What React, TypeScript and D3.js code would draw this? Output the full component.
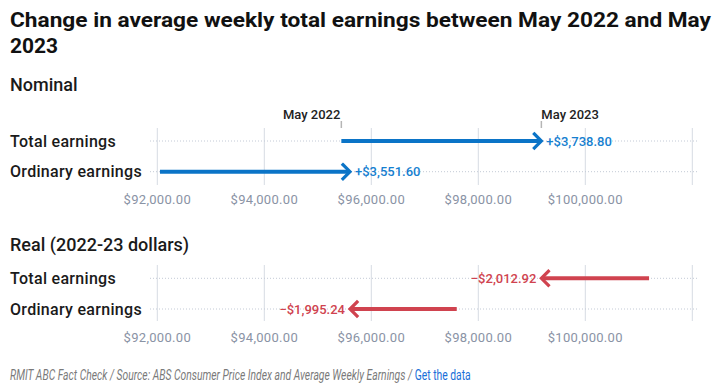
import React, { useEffect, useRef } from 'react';
import * as d3 from 'd3';

// rows and values (annualised weekly earnings, $)
const categories = ['Total earnings', 'Ordinary earnings'];
const nominalStart = [95440, 92050];
const nominalChange = [3738.8, 3551.6];
const realStart = [101191.72, 97596.84];
const realChange = [-2012.92, -1995.24];
const tickValues = [92000, 94000, 96000, 98000, 100000, 102000];
const tickLabels = ['$92,000.00', '$94,000.00', '$96,000.00', '$98,000.00', '$100,000.00', ''];
const markerLabels = ['May 2022', 'May 2023'];

const W = 721;
const H = 390;
const FONT = 'Roboto, "Noto Sans", sans-serif';
const BLUE = '#0b74c7';
const RED = '#d0434f';

const fmt = (v: number) => (v >= 0 ? '+' : '\u2212') + d3.format('$,.2f')(Math.abs(v));

const App = () => {
  const svgRef = useRef<SVGSVGElement>(null);

  useEffect(() => {
    const svg = d3.select(svgRef.current);
    svg.selectAll('*').remove();

    const x = d3.scaleLinear().domain([92000, 102000]).range([157.3, 692.3]);

    // title (two lines, stretched to the width of the original heading font)
    const titleStyle = (t: any) => t
      .style('font-family', FONT).style('font-size', '21px').style('font-weight', 700)
      .style('fill', '#111');
    titleStyle(svg.append('text').attr('x', 10).attr('y', 27)
      .attr('textLength', 701).attr('lengthAdjust', 'spacingAndGlyphs')
      .text('Change in average weekly total earnings between May 2022 and May'));
    titleStyle(svg.append('text').attr('x', 10).attr('y', 53)
      .attr('textLength', 48).attr('lengthAdjust', 'spacingAndGlyphs')
      .text('2023'));

    const panels = [
      { name: 'Nominal', headY: 91, rows: [141, 171.7], grid: [128, 185], axisY: 203.5,
        start: nominalStart, change: nominalChange, color: BLUE, markers: true },
      { name: 'Real (2022-23 dollars)', headY: 251, rows: [278.3, 309], grid: [265, 321], axisY: 341.5,
        start: realStart, change: realChange, color: RED, markers: false },
    ];

    panels.forEach((p) => {
      const g = svg.append('g');
      g.append('text')
        .attr('x', 10).attr('y', p.headY)
        .style('font-family', FONT).style('font-size', '18px').style('font-weight', 500)
        .style('fill', '#1a1a1a').text(p.name);

      // gridlines
      g.selectAll('.grid').data(tickValues).enter().append('line')
        .attr('x1', d => x(d)).attr('x2', d => x(d))
        .attr('y1', p.grid[0]).attr('y2', p.grid[1])
        .attr('stroke', '#d6dbe3').attr('stroke-width', 1);

      // tick labels
      g.selectAll('.tick').data(tickValues).enter().append('text')
        .attr('x', d => x(d)).attr('y', p.axisY)
        .attr('text-anchor', 'middle')
        .style('font-family', FONT).style('font-size', '13px')
        .style('letter-spacing', '0.3px')
        .style('fill', '#8a93a5')
        .text((d, i) => tickLabels[i]);

      // row dotted guides + labels
      p.rows.forEach((ry, i) => {
        g.append('line')
          .attr('x1', 150).attr('x2', 698).attr('y1', ry).attr('y2', ry)
          .attr('stroke', '#c3cad6').attr('stroke-width', 1).attr('stroke-dasharray', '1,2');
        g.append('text')
          .attr('x', 10).attr('y', ry + 5.5)
          .style('font-family', FONT).style('font-size', '16px').style('font-weight', 500)
          .style('letter-spacing', '0.3px')
          .style('fill', '#1a1a1a').text(categories[i]);
      });

      // markers for May 2022 / May 2023 (nominal total row)
      if (p.markers) {
        const mv = [p.start[0], p.start[0] + p.change[0]];
        mv.forEach((v, i) => {
          g.append('line')
            .attr('x1', x(v)).attr('x2', x(v)).attr('y1', 121).attr('y2', 128)
            .attr('stroke', '#b5b5b5').attr('stroke-width', 1.5);
          g.append('text')
            .attr('x', x(v) + (i === 0 ? -1 : 0)).attr('y', 118.5)
            .attr('text-anchor', i === 0 ? 'end' : 'start')
            .style('font-family', FONT).style('font-size', '13px').style('font-weight', 500)
            .style('fill', '#222').text(markerLabels[i]);
        });
      }

      // arrows
      p.rows.forEach((ry, i) => {
        const s = p.start[i];
        const e = s + p.change[i];
        const dir = e > s ? 1 : -1;
        const xs = x(s);
        const xe = x(e);
        g.append('line')
          .attr('x1', xs).attr('x2', xe - dir * 1.5).attr('y1', ry).attr('y2', ry)
          .attr('stroke', p.color).attr('stroke-width', 4);
        const head = d3.line()([
          [xe - dir * 7, ry - 7],
          [xe, ry],
          [xe - dir * 7, ry + 7],
        ]);
        g.append('path').attr('d', head)
          .attr('fill', 'none').attr('stroke', p.color).attr('stroke-width', 3.2)
          .attr('stroke-linecap', 'square').attr('stroke-linejoin', 'miter');
        g.append('text')
          .attr('x', xe + dir * 5).attr('y', ry + 4.5)
          .attr('text-anchor', dir > 0 ? 'start' : 'end')
          .style('font-family', FONT).style('font-size', '13px').style('font-weight', 500)
          .style('fill', p.color === BLUE ? '#1680d0' : '#d0434f')
          .text(fmt(p.change[i]));
      });
    });

    // footer (squeezed horizontally, like the original's narrow italic)
    const foot = svg.append('text')
      .attr('transform', 'translate(10,380) scale(0.74,1)')
      .style('font-family', FONT).style('font-size', '14px');
    foot.append('tspan').style('font-style', 'italic').style('fill', '#7a7a7a')
      .text('RMIT ABC Fact Check / Source: ABS Consumer Price Index and Average Weekly Earnings / ');
    foot.append('tspan').style('fill', '#1a6fd8').text('Get the data');
  }, []);

  return (
    <svg ref={svgRef} width={W} height={H}
      style={{ position: 'absolute', left: 0, top: 0, background: '#fff' }} />
  );
};

export default App;
